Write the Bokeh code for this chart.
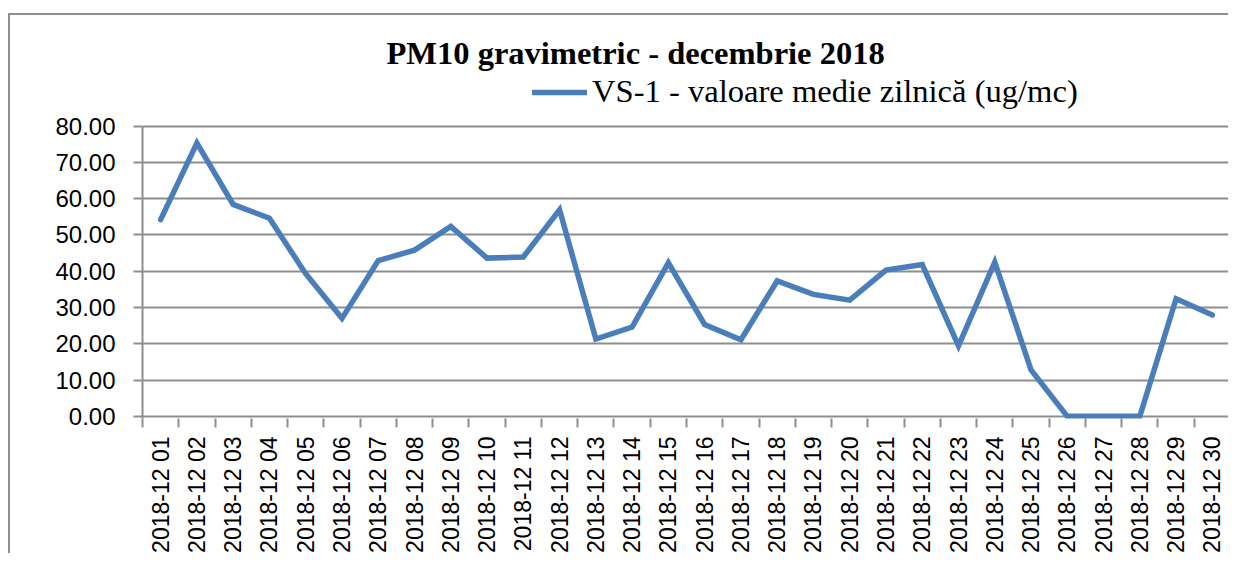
import numpy as np
from bokeh.plotting import figure
from bokeh.models import (Range1d, FixedTicker, NumeralTickFormatter, Legend, LegendItem)
from bokeh.embed import file_html
from bokeh.resources import INLINE

# ---- data ----
days = ["2018-12 01", "2018-12 02", "2018-12 03", "2018-12 04", "2018-12 05",
        "2018-12 06", "2018-12 07", "2018-12 08", "2018-12 09", "2018-12 10",
        "2018-12 11", "2018-12 12", "2018-12 13", "2018-12 14", "2018-12 15",
        "2018-12 16", "2018-12 17", "2018-12 18", "2018-12 19", "2018-12 20",
        "2018-12 21", "2018-12 22", "2018-12 23", "2018-12 24", "2018-12 25",
        "2018-12 26", "2018-12 27", "2018-12 28", "2018-12 29", "2018-12 30"]
values = [54.2, 75.3, 58.4, 54.6, 39.3, 27.0, 42.9, 45.8, 52.3, 43.6,
          43.9, 56.9, 21.3, 24.6, 42.3, 25.3, 21.1, 37.3, 33.6, 32.0,
          40.3, 41.8, 19.4, 42.5, 12.8, 0.0, 0.0, 0.0, 32.4, 27.9]
y_ticks = [0, 10, 20, 30, 40, 50, 60, 70, 80]
title_text = "PM10 gravimetric - decembrie 2018"
series_name = "VS-1 - valoare medie zilnică (ug/mc)"

LINE_COLOR = "#4a7ebb"
GRID_COLOR = "#8e8e8e"

n = len(days)
x = [i + 0.5 for i in range(n)]

# frame extends above 80 to host the legend (no grid/axis drawn there)
p = figure(width=1220, height=540,
           x_range=Range1d(0, n), y_range=Range1d(-0.6, 95.3),
           output_backend="svg", toolbar_location=None,
           min_border_left=132, min_border_right=0,
           min_border_top=55, min_border_bottom=134)
p.styles = {"margin-top": "13px",
            "margin-left": "8px",
            "border-top": "2px solid #8e8e8e",
            "border-left": "2px solid #8e8e8e"}
p.outline_line_color = None
p.background_fill_color = "white"
p.border_fill_color = "white"

# title
p.title.text = title_text
p.title.text_font = "Liberation Serif"
p.title.text_font_style = "bold"
p.title.text_font_size = "32.5px"
p.title.text_color = "black"
p.title.align = "left"
p.title.offset = 244
p.title.standoff = 0

# line
r = p.line(x, values, line_color=LINE_COLOR, line_width=5.5,
           line_join="miter", line_cap="round")

# y axis
p.yaxis.ticker = FixedTicker(ticks=y_ticks)
p.yaxis.bounds = (-0.6, 80)
p.yaxis.formatter = NumeralTickFormatter(format="0.00")
p.yaxis.major_label_text_font = "Liberation Sans"
p.yaxis.major_label_text_font_size = "24px"
p.yaxis.major_label_text_color = "black"
p.yaxis.axis_line_color = GRID_COLOR
p.yaxis.axis_line_width = 2
p.yaxis.major_tick_line_color = GRID_COLOR
p.yaxis.major_tick_line_width = 2
p.yaxis.major_tick_out = 9
p.yaxis.major_tick_in = 0
p.yaxis.minor_tick_line_color = None
p.yaxis.major_label_standoff = 18

# x axis
p.xaxis.ticker = FixedTicker(ticks=x, minor_ticks=list(range(n + 1)))
p.xaxis.major_label_overrides = {xi: d for xi, d in zip(x, days)}
p.xaxis.major_label_orientation = np.pi / 2
p.xaxis.major_label_text_font = "Liberation Sans"
p.xaxis.major_label_text_font_size = "23px"
p.xaxis.major_label_text_color = "black"
p.xaxis.axis_line_color = None
p.xaxis.major_tick_line_color = None
p.xaxis.major_tick_out = 9
p.xaxis.major_tick_in = 0
p.xaxis.minor_tick_line_color = GRID_COLOR
p.xaxis.minor_tick_line_width = 2
p.xaxis.minor_tick_out = 9
p.xaxis.minor_tick_in = 0
p.xaxis.major_label_standoff = 9

# grid
p.xgrid.visible = False
p.ygrid.ticker = FixedTicker(ticks=y_ticks)
p.ygrid.grid_line_color = GRID_COLOR
p.ygrid.grid_line_width = 2

# legend
legend = Legend(items=[LegendItem(label=series_name, renderers=[r])],
                location=(390, 308), orientation="horizontal",
                padding=0, margin=0, spacing=0,
                glyph_width=55, glyph_height=36, label_height=36,
                label_standoff=5,
                label_text_font="Liberation Serif",
                label_text_font_size="32.6px",
                label_text_color="black",
                background_fill_alpha=0, border_line_color=None)
p.add_layout(legend, "center")

open("out.html", "w").write(file_html(p, INLINE))
